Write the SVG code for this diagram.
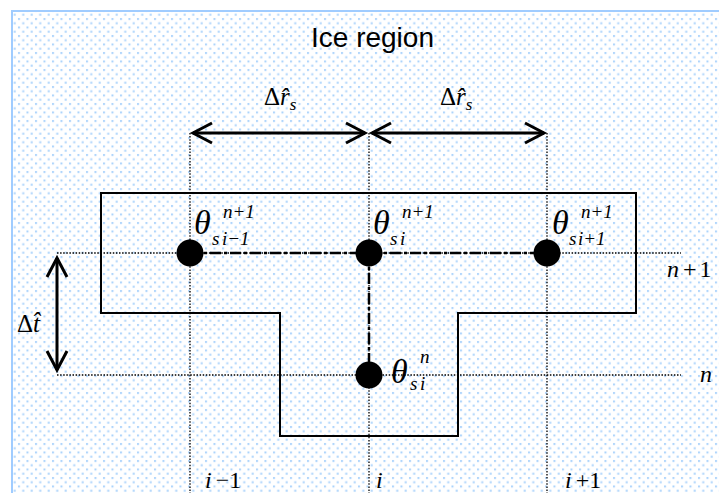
<svg xmlns="http://www.w3.org/2000/svg" width="719" height="493" viewBox="0 0 719 493">
<defs>
<pattern id="dots" width="8.5" height="8.5" patternUnits="userSpaceOnUse">
<rect x="1" y="1" width="2" height="2" fill="#a9d2fb"/>
<rect x="5.25" y="5.25" width="2" height="2" fill="#a9d2fb"/>
</pattern>
<marker id="chev" markerUnits="userSpaceOnUse" markerWidth="30" markerHeight="30" viewBox="-25 -15 30 30" refX="0" refY="0" orient="auto-start-reverse" overflow="visible">
<path d="M-19,-10 L0,0 L-19,10" fill="none" stroke="#000" stroke-width="3"/>
</marker>
</defs>
<style>
.grid{stroke:#000;stroke-width:1.3;stroke-dasharray:1.5 1.6;fill:none}
.outline{stroke:#000;stroke-width:2;fill:none}
.dd{stroke:#000;stroke-width:2.5;stroke-dasharray:11 3 3 3;fill:none}
.arr{stroke:#000;stroke-width:3;fill:none;marker-start:url(#chev);marker-end:url(#chev)}
.m{font-family:"Liberation Serif","Times New Roman",serif;font-style:italic;fill:#000}
.up{font-style:normal}
.th{font-size:34px}
.sm{font-size:19px}
.lab{font-size:24px}
.title{font-family:"Liberation Sans",Arial,sans-serif;font-size:28px;fill:#000}
</style>
<rect x="0" y="0" width="719" height="493" fill="#fff"/>
<rect x="12" y="11" width="720" height="500" fill="url(#dots)" stroke="#a0ccff" stroke-width="2"/>
<text class="title" x="372.5" y="47" text-anchor="middle">Ice region</text>

<g id="grid-lines">
<line class="grid" x1="190" y1="133" x2="190" y2="493"/>
<line class="grid" x1="369" y1="133" x2="369" y2="493"/>
<line class="grid" x1="547" y1="133" x2="547" y2="493"/>
<line class="grid" x1="57" y1="253" x2="681" y2="253"/>
<line class="grid" x1="57" y1="375" x2="681" y2="375"/>
</g>

<g id="ice-outline">
<path class="outline" d="M101,193 H636 V313 H458 V436 H280 V313 H101 Z"/>
</g>

<g id="connectors">
<path class="dd" d="M190,253 H547"/>
<path class="dd" d="M369,253 V375"/>
<line class="arr" x1="193" y1="133" x2="365" y2="133"/>
<line class="arr" x1="372" y1="133" x2="544" y2="133"/>
<line class="arr" x1="57" y1="258" x2="57" y2="370"/>
</g>

<g id="dim-labels">
<text class="m" x="264" y="105" font-size="25"><tspan class="up">Δ</tspan>r̂<tspan font-size="17" dy="5">s</tspan></text>
<text class="m" x="440" y="105" font-size="25"><tspan class="up">Δ</tspan>r̂<tspan font-size="17" dy="5">s</tspan></text>
<text class="m" x="17" y="332" font-size="25"><tspan class="up">Δ</tspan>t̂</text>
</g>

<g id="node-i-1-n1">
<circle cx="190" cy="253" r="13.5" fill="#000"/>
<text class="m th" x="194" y="234">θ</text>
<text class="m sm" x="223" y="218">n+1</text>
<text class="m sm" x="212" y="245">s</text>
<text class="m sm" x="222" y="245">i−1</text>
</g>

<g id="node-i-n1">
<circle cx="369" cy="253" r="13.5" fill="#000"/>
<text class="m th" x="373" y="234">θ</text>
<text class="m sm" x="402" y="218">n+1</text>
<text class="m sm" x="390" y="245">s</text>
<text class="m sm" x="400" y="245">i</text>
</g>

<g id="node-i1-n1">
<circle cx="547" cy="253" r="13.5" fill="#000"/>
<text class="m th" x="552" y="234">θ</text>
<text class="m sm" x="581" y="218">n+1</text>
<text class="m sm" x="569" y="245">s</text>
<text class="m sm" x="578" y="245">i+1</text>
</g>

<g id="node-i-n">
<circle cx="369" cy="375" r="13.5" fill="#000"/>
<text class="m th" x="391" y="383">θ</text>
<text class="m sm" x="420" y="363">n</text>
<text class="m sm" x="410" y="390">s</text>
<text class="m sm" x="420" y="390">i</text>
</g>

<g id="axis-labels">
<text class="m lab" x="667" y="277">n<tspan class="up" dx="4">+</tspan><tspan class="up" dx="3">1</tspan></text>
<text class="m lab" x="700" y="382">n</text>
<text class="m lab" x="205" y="488">i<tspan class="up" dx="4">−</tspan><tspan class="up">1</tspan></text>
<text class="m lab" x="376" y="488">i</text>
<text class="m lab" x="565" y="488">i<tspan class="up" dx="4">+</tspan><tspan class="up">1</tspan></text>
</g>
</svg>
